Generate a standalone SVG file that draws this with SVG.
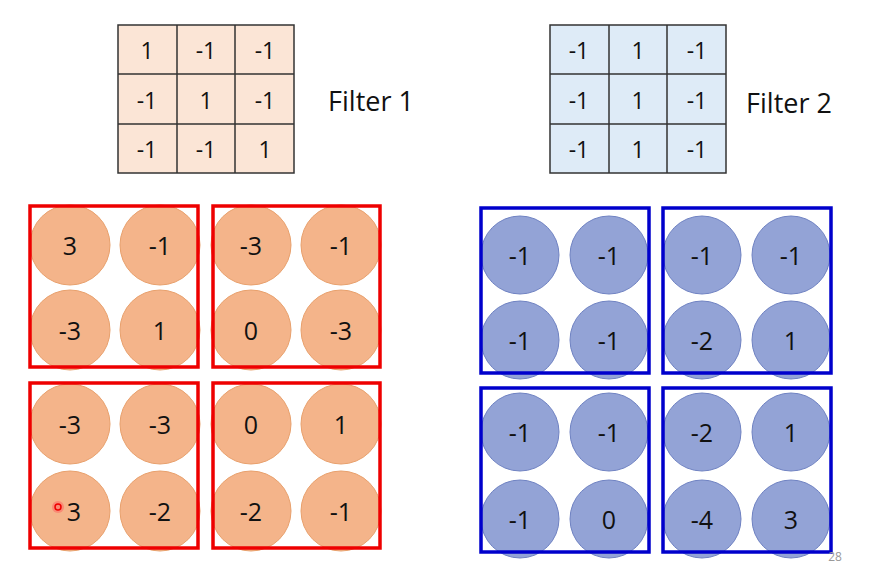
<svg xmlns="http://www.w3.org/2000/svg" width="881" height="564" viewBox="0 0 881 564">
<style>
text{font-family:"Open Sans","Liberation Sans",sans-serif;fill:#111;text-anchor:middle;dominant-baseline:central}
.g{font-size:23px}
.c{font-size:25px}
.f1{fill:#fbe5d6;stroke:#333;stroke-width:1.5}
.f2{fill:#deebf7;stroke:#333;stroke-width:1.5}
.rb{fill:none;stroke:#ee0000;stroke-width:3.5}
.bb{fill:none;stroke:#0000cc;stroke-width:3.5}
.oc{fill:#f4b48a;stroke:#e8a06c;stroke-width:1}
.bc{fill:#93a3d6;stroke:#6f82c2;stroke-width:1}
</style>
<rect width="881" height="564" fill="#fff"/>
<g id="filter1">
<rect class="f1" x="118" y="25" width="176" height="148"/>
<path d="M177 25V173M235 25V173M118 74H294M118 124H294" stroke="#333" stroke-width="1.5"/>
<text class="g" x="147" y="50">1</text><text class="g" x="206" y="50">-1</text><text class="g" x="265" y="50">-1</text>
<text class="g" x="147" y="100">-1</text><text class="g" x="206" y="100">1</text><text class="g" x="265" y="100">-1</text>
<text class="g" x="147" y="149">-1</text><text class="g" x="206" y="149">-1</text><text class="g" x="265" y="149">1</text>
<text x="371" y="100" style="font-size:27px">Filter 1</text>
</g>
<g id="filter2">
<rect class="f2" x="550" y="25" width="176" height="148"/>
<path d="M609 25V173M667 25V173M550 74H726M550 124H726" stroke="#333" stroke-width="1.5"/>
<text class="g" x="579" y="50">-1</text><text class="g" x="638" y="50">1</text><text class="g" x="697" y="50">-1</text>
<text class="g" x="579" y="100">-1</text><text class="g" x="638" y="100">1</text><text class="g" x="697" y="100">-1</text>
<text class="g" x="579" y="149">-1</text><text class="g" x="638" y="149">1</text><text class="g" x="697" y="149">-1</text>
<text x="789" y="102" style="font-size:27px">Filter 2</text>
</g>
<g id="red">
<circle class="oc" cx="70" cy="245" r="40"/><circle class="oc" cx="160" cy="245" r="40"/><circle class="oc" cx="70" cy="330" r="40"/><circle class="oc" cx="160" cy="330" r="40"/>
<circle class="oc" cx="251" cy="245" r="40"/><circle class="oc" cx="341" cy="245" r="40"/><circle class="oc" cx="251" cy="330" r="40"/><circle class="oc" cx="341" cy="330" r="40"/>
<circle class="oc" cx="70" cy="424" r="40"/><circle class="oc" cx="160" cy="424" r="40"/><circle class="oc" cx="70" cy="511" r="40"/><circle class="oc" cx="160" cy="511" r="40"/>
<circle class="oc" cx="251" cy="424" r="40"/><circle class="oc" cx="341" cy="424" r="40"/><circle class="oc" cx="251" cy="511" r="40"/><circle class="oc" cx="341" cy="511" r="40"/>
<rect class="rb" x="30" y="206" width="168" height="161"/><rect class="rb" x="213" y="206" width="167" height="161"/>
<rect class="rb" x="30" y="383" width="168" height="165"/><rect class="rb" x="213" y="383" width="167" height="165"/>
<text class="c" x="70" y="245">3</text><text class="c" x="160" y="245">-1</text><text class="c" x="70" y="330">-3</text><text class="c" x="160" y="330">1</text>
<text class="c" x="251" y="245">-3</text><text class="c" x="341" y="245">-1</text><text class="c" x="251" y="330">0</text><text class="c" x="341" y="330">-3</text>
<text class="c" x="70" y="424">-3</text><text class="c" x="160" y="424">-3</text><text class="c" x="74" y="511">3</text><text class="c" x="160" y="511">-2</text>
<text class="c" x="251" y="424">0</text><text class="c" x="341" y="424">1</text><text class="c" x="251" y="511">-2</text><text class="c" x="341" y="511">-1</text>
<circle cx="58" cy="507" r="6" fill="#ff6060" opacity="0.5"/><circle cx="58" cy="507" r="3" fill="none" stroke="#e00" stroke-width="1.5"/>
</g>
<g id="blue">
<circle class="bc" cx="520" cy="255" r="39"/><circle class="bc" cx="609" cy="255" r="39"/><circle class="bc" cx="520" cy="340" r="39"/><circle class="bc" cx="609" cy="340" r="39"/>
<circle class="bc" cx="702" cy="255" r="39"/><circle class="bc" cx="791" cy="255" r="39"/><circle class="bc" cx="702" cy="340" r="39"/><circle class="bc" cx="791" cy="340" r="39"/>
<circle class="bc" cx="520" cy="432" r="39"/><circle class="bc" cx="609" cy="432" r="39"/><circle class="bc" cx="520" cy="519" r="39"/><circle class="bc" cx="609" cy="519" r="39"/>
<circle class="bc" cx="702" cy="432" r="39"/><circle class="bc" cx="791" cy="432" r="39"/><circle class="bc" cx="702" cy="519" r="39"/><circle class="bc" cx="791" cy="519" r="39"/>
<rect class="bb" x="481" y="208" width="168" height="165"/><rect class="bb" x="663" y="208" width="168" height="165"/>
<rect class="bb" x="481" y="388" width="168" height="164"/><rect class="bb" x="663" y="388" width="168" height="164"/>
<text class="c" x="520" y="255">-1</text><text class="c" x="609" y="255">-1</text><text class="c" x="520" y="340">-1</text><text class="c" x="609" y="340">-1</text>
<text class="c" x="702" y="255">-1</text><text class="c" x="791" y="255">-1</text><text class="c" x="702" y="340">-2</text><text class="c" x="791" y="340">1</text>
<text class="c" x="520" y="432">-1</text><text class="c" x="609" y="432">-1</text><text class="c" x="520" y="519">-1</text><text class="c" x="609" y="519">0</text>
<text class="c" x="702" y="432">-2</text><text class="c" x="791" y="432">1</text><text class="c" x="702" y="519">-4</text><text class="c" x="791" y="519">3</text>
</g>
<text x="835" y="556" style="font-size:12px;fill:#999">28</text>
</svg>
